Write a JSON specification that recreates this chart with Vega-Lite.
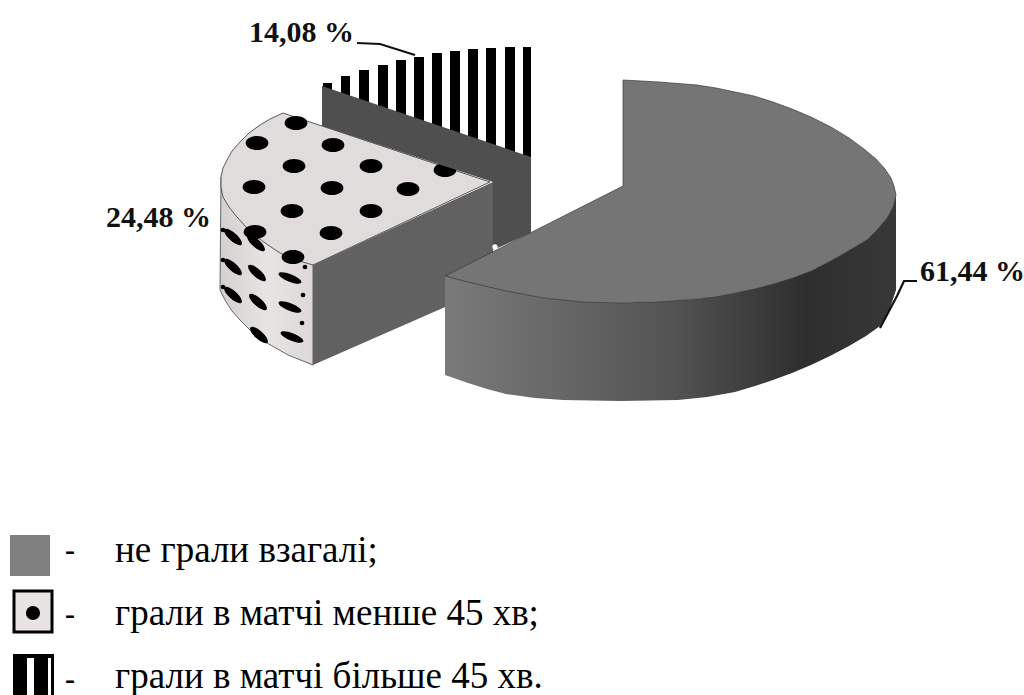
{
"$schema":"https://vega.github.io/schema/vega-lite/v6.json",
"width":1024,"height":695,"padding":0,"autosize":"none",
"background":"white",
"view":{"stroke":null},
"datasets":{
"outline":[
{"part":"stripeTop","i":1,"x":322,"y":86},{"part":"stripeTop","i":2,"x":350,"y":75},{"part":"stripeTop","i":3,"x":383,"y":65},{"part":"stripeTop","i":4,"x":417,"y":57},{"part":"stripeTop","i":5,"x":450,"y":52},{"part":"stripeTop","i":6,"x":483,"y":48},{"part":"stripeTop","i":7,"x":531,"y":47},{"part":"stripeTop","i":8,"x":531,"y":157},{"part":"stripeTop","i":9,"x":322,"y":86},
{"part":"dotSide","i":1,"x":221,"y":177},{"part":"dotSide","i":2,"x":220,"y":290},{"part":"dotSide","i":3,"x":225,"y":300},{"part":"dotSide","i":4,"x":232,"y":311},{"part":"dotSide","i":5,"x":240,"y":320},{"part":"dotSide","i":6,"x":252,"y":332},{"part":"dotSide","i":7,"x":267,"y":343},{"part":"dotSide","i":8,"x":288,"y":355},{"part":"dotSide","i":9,"x":313,"y":365},{"part":"dotSide","i":10,"x":313,"y":265},{"part":"dotSide","i":11,"x":221,"y":177},
{"part":"dotTop","i":1,"x":283,"y":113},{"part":"dotTop","i":2,"x":270,"y":119},{"part":"dotTop","i":3,"x":260,"y":125},{"part":"dotTop","i":4,"x":249,"y":133},{"part":"dotTop","i":5,"x":240,"y":142},{"part":"dotTop","i":6,"x":232,"y":151},{"part":"dotTop","i":7,"x":227,"y":160},{"part":"dotTop","i":8,"x":223,"y":168},{"part":"dotTop","i":9,"x":221,"y":177},{"part":"dotTop","i":10,"x":221,"y":187},{"part":"dotTop","i":11,"x":223,"y":197},{"part":"dotTop","i":12,"x":229,"y":207},{"part":"dotTop","i":13,"x":237,"y":217},{"part":"dotTop","i":14,"x":246,"y":227},{"part":"dotTop","i":15,"x":257,"y":237},{"part":"dotTop","i":16,"x":268,"y":245},{"part":"dotTop","i":17,"x":280,"y":253},{"part":"dotTop","i":18,"x":296,"y":260},{"part":"dotTop","i":19,"x":313,"y":265},{"part":"dotTop","i":20,"x":490,"y":182},{"part":"dotTop","i":21,"x":283,"y":113},
{"part":"darkFace","i":1,"x":322,"y":86},{"part":"darkFace","i":2,"x":531,"y":157},{"part":"darkFace","i":3,"x":531,"y":233},{"part":"darkFace","i":4,"x":493,"y":250},{"part":"darkFace","i":5,"x":493,"y":182},{"part":"darkFace","i":6,"x":322,"y":126},{"part":"darkFace","i":7,"x":322,"y":86},
{"part":"cutFace","i":1,"x":313,"y":265},{"part":"cutFace","i":2,"x":493,"y":182},{"part":"cutFace","i":3,"x":493,"y":286},{"part":"cutFace","i":4,"x":313,"y":365},{"part":"cutFace","i":5,"x":313,"y":265},
{"part":"mainSide","i":1,"x":896,"y":195},{"part":"mainSide","i":2,"x":893,"y":207},{"part":"mainSide","i":3,"x":887,"y":218},{"part":"mainSide","i":4,"x":868,"y":239},{"part":"mainSide","i":5,"x":841,"y":255},{"part":"mainSide","i":6,"x":811,"y":271},{"part":"mainSide","i":7,"x":773,"y":284},{"part":"mainSide","i":8,"x":735,"y":293},{"part":"mainSide","i":9,"x":697,"y":299},{"part":"mainSide","i":10,"x":620,"y":303},{"part":"mainSide","i":11,"x":544,"y":298},{"part":"mainSide","i":12,"x":468,"y":282},{"part":"mainSide","i":13,"x":445,"y":276},{"part":"mainSide","i":14,"x":445,"y":375},{"part":"mainSide","i":15,"x":468,"y":383},{"part":"mainSide","i":16,"x":487,"y":389},{"part":"mainSide","i":17,"x":506,"y":394},{"part":"mainSide","i":18,"x":535,"y":398},{"part":"mainSide","i":19,"x":563,"y":400},{"part":"mainSide","i":20,"x":620,"y":401},{"part":"mainSide","i":21,"x":678,"y":400},{"part":"mainSide","i":22,"x":707,"y":397},{"part":"mainSide","i":23,"x":735,"y":392},{"part":"mainSide","i":24,"x":755,"y":386},{"part":"mainSide","i":25,"x":773,"y":380},{"part":"mainSide","i":26,"x":792,"y":373},{"part":"mainSide","i":27,"x":811,"y":365},{"part":"mainSide","i":28,"x":830,"y":356},{"part":"mainSide","i":29,"x":849,"y":346},{"part":"mainSide","i":30,"x":866,"y":336},{"part":"mainSide","i":31,"x":880,"y":326},{"part":"mainSide","i":32,"x":889,"y":311},{"part":"mainSide","i":33,"x":896,"y":290},{"part":"mainSide","i":34,"x":896,"y":195},
{"part":"mainTop","i":1,"x":623,"y":80},{"part":"mainTop","i":2,"x":659,"y":82},{"part":"mainTop","i":3,"x":697,"y":85},{"part":"mainTop","i":4,"x":716,"y":88},{"part":"mainTop","i":5,"x":735,"y":92},{"part":"mainTop","i":6,"x":754,"y":96},{"part":"mainTop","i":7,"x":773,"y":102},{"part":"mainTop","i":8,"x":792,"y":109},{"part":"mainTop","i":9,"x":811,"y":117},{"part":"mainTop","i":10,"x":831,"y":127},{"part":"mainTop","i":11,"x":849,"y":138},{"part":"mainTop","i":12,"x":864,"y":149},{"part":"mainTop","i":13,"x":876,"y":159},{"part":"mainTop","i":14,"x":885,"y":169},{"part":"mainTop","i":15,"x":891,"y":178},{"part":"mainTop","i":16,"x":894,"y":186},{"part":"mainTop","i":17,"x":896,"y":195},{"part":"mainTop","i":18,"x":893,"y":207},{"part":"mainTop","i":19,"x":887,"y":218},{"part":"mainTop","i":20,"x":878,"y":229},{"part":"mainTop","i":21,"x":868,"y":239},{"part":"mainTop","i":22,"x":855,"y":247},{"part":"mainTop","i":23,"x":841,"y":255},{"part":"mainTop","i":24,"x":827,"y":263},{"part":"mainTop","i":25,"x":811,"y":271},{"part":"mainTop","i":26,"x":793,"y":278},{"part":"mainTop","i":27,"x":773,"y":284},{"part":"mainTop","i":28,"x":755,"y":289},{"part":"mainTop","i":29,"x":735,"y":293},{"part":"mainTop","i":30,"x":716,"y":297},{"part":"mainTop","i":31,"x":697,"y":299},{"part":"mainTop","i":32,"x":660,"y":302},{"part":"mainTop","i":33,"x":620,"y":303},{"part":"mainTop","i":34,"x":582,"y":302},{"part":"mainTop","i":35,"x":544,"y":298},{"part":"mainTop","i":36,"x":506,"y":291},{"part":"mainTop","i":37,"x":468,"y":282},{"part":"mainTop","i":38,"x":445,"y":276},{"part":"mainTop","i":39,"x":623,"y":186},{"part":"mainTop","i":40,"x":623,"y":80},
{"part":"leaderA","i":1,"x":357,"y":43},{"part":"leaderA","i":2,"x":380,"y":44},{"part":"leaderA","i":3,"x":415,"y":55},
{"part":"leaderB","i":1,"x":917,"y":281},{"part":"leaderB","i":2,"x":904,"y":281},{"part":"leaderB","i":3,"x":897,"y":296},{"part":"leaderB","i":4,"x":880,"y":328}
],
"stripes":[
{"x":323,"x2":332,"y":83,"y2":92},{"x":341,"x2":350,"y":76,"y2":98},{"x":359,"x2":369,"y":70,"y2":104},{"x":378,"x2":388,"y":65,"y2":111},{"x":396,"x2":406,"y":60,"y2":117},{"x":414,"x2":424,"y":57,"y2":123},{"x":432,"x2":442,"y":53,"y2":130},{"x":450,"x2":460,"y":51,"y2":136},{"x":468,"x2":478,"y":49,"y2":142},{"x":486,"x2":496,"y":48,"y2":148},{"x":505,"x2":515,"y":47,"y2":154},{"x":523,"x2":531,"y":47,"y2":160}
],
"dots":[
{"x":296,"y":123},{"x":257,"y":143},{"x":333,"y":145},{"x":294,"y":166},{"x":371,"y":166},{"x":445,"y":170},{"x":254,"y":187},{"x":332,"y":188},{"x":408,"y":189},{"x":292,"y":211},{"x":371,"y":211},{"x":331,"y":233},{"x":255,"y":232},{"x":293,"y":257}
],
"sideDots":[
{"col":"left","x":233,"y":237},{"col":"left","x":256,"y":243},{"col":"left","x":233,"y":267},{"col":"left","x":257,"y":273},{"col":"left","x":233,"y":295},{"col":"left","x":258,"y":302},{"col":"left","x":259,"y":335},
{"col":"right","x":290,"y":278},{"col":"right","x":290,"y":307},{"col":"right","x":292,"y":337}
],
"edgeDots":[{"x":223,"y":230},{"x":223,"y":260},{"x":223,"y":287},{"x":303,"y":295},{"x":302,"y":323},{"x":305,"y":267}],
"labels":[
{"label":"14,08 %","x":249,"y":33},{"label":"24,48 %","x":106,"y":218},{"label":"61,44 %","x":920,"y":272}
],
"dashes":[{"label":"-","x":65,"y":551},{"label":"-","x":65,"y":615},{"label":"-","x":65,"y":680}],
"legend":[
{"label":"не грали взагалі;","x":115,"y":562},{"label":"грали в матчі менше 45 хв;","x":115,"y":625},{"label":"грали в матчі більше 45 хв.","x":115,"y":688}
],
"swatches":[
{"kind":"plain","x":10,"x2":50,"y":535,"y2":576},
{"kind":"box","x":14,"x2":52,"y":591,"y2":632},
{"kind":"bar","x":13,"x2":54,"y":654,"y2":695}
],
"swatchStripes":[{"x":27,"x2":34,"y":658,"y2":695},{"x":48,"x2":51,"y":658,"y2":695}],
"swatchDot":[{"x":33,"y":613}],
"spot":[{"x":495,"y":247}]
},
"encoding":{
"x":{"field":"x","type":"quantitative","axis":null,"scale":{"domain":[0,1024],"nice":false,"zero":false}},
"y":{"field":"y","type":"quantitative","axis":null,"scale":{"domain":[695,0],"nice":false,"zero":false}}
},
"layer":[
{"data":{"name":"outline"},"transform":[{"filter":"datum.part==='stripeTop'"}],"mark":{"type":"line","fill":"#ffffff","stroke":null},"encoding":{"order":{"field":"i","type":"quantitative"}}},
{"data":{"name":"stripes"},"mark":{"type":"rect","fill":"#000000"},"encoding":{"x2":{"field":"x2"},"y2":{"field":"y2"}}},
{"data":{"name":"outline"},"transform":[{"filter":"datum.part==='dotSide'"}],"mark":{"type":"line","fill":{"x1":0,"y1":0,"x2":1,"y2":0,"gradient":"linear","stops":[{"offset":0,"color":"#d4d0d0"},{"offset":0.5,"color":"#e8e4e4"},{"offset":1,"color":"#dcd8d8"}]},"stroke":"#444444","strokeWidth":0.8},"encoding":{"order":{"field":"i","type":"quantitative"}}},
{"data":{"name":"sideDots"},"transform":[{"filter":"datum.col==='left'"}],"mark":{"type":"point","shape":"M-1,0A1,0.36 0 1 1 1,0A1,0.36 0 1 1 -1,0Z","filled":true,"fill":"#000000","stroke":null,"opacity":1,"angle":42,"size":520}},
{"data":{"name":"sideDots"},"transform":[{"filter":"datum.col==='right'"}],"mark":{"type":"point","shape":"M-1,0A1,0.3 0 1 1 1,0A1,0.3 0 1 1 -1,0Z","filled":true,"fill":"#000000","stroke":null,"opacity":1,"angle":22,"size":600}},
{"data":{"name":"edgeDots"},"mark":{"type":"point","shape":"circle","filled":true,"fill":"#000000","stroke":null,"opacity":1,"size":22}},
{"data":{"name":"outline"},"transform":[{"filter":"datum.part==='dotTop'"}],"mark":{"type":"line","fill":"#e0dcdc","stroke":"#333333","strokeWidth":0.8},"encoding":{"order":{"field":"i","type":"quantitative"}}},
{"data":{"name":"dots"},"mark":{"type":"point","shape":"M-1,0A1,0.62 0 1 1 1,0A1,0.62 0 1 1 -1,0Z","filled":true,"fill":"#000000","stroke":null,"opacity":1,"size":520}},
{"data":{"name":"outline"},"transform":[{"filter":"datum.part==='darkFace'"}],"mark":{"type":"line","fill":"#4f4f4f","stroke":null},"encoding":{"order":{"field":"i","type":"quantitative"}}},
{"data":{"name":"outline"},"transform":[{"filter":"datum.part==='cutFace'"}],"mark":{"type":"line","fill":"#616161","stroke":null},"encoding":{"order":{"field":"i","type":"quantitative"}}},
{"data":{"name":"spot"},"mark":{"type":"point","shape":"circle","filled":true,"fill":"#ffffff","stroke":null,"opacity":1,"size":28}},
{"data":{"name":"outline"},"transform":[{"filter":"datum.part==='mainSide'"}],"mark":{"type":"line","fill":{"x1":0,"y1":0,"x2":1,"y2":0,"gradient":"linear","stops":[{"offset":0,"color":"#7a7a7a"},{"offset":0.5,"color":"#545454"},{"offset":0.8,"color":"#2e2e2e"},{"offset":1,"color":"#383838"}]},"stroke":null},"encoding":{"order":{"field":"i","type":"quantitative"}}},
{"data":{"name":"outline"},"transform":[{"filter":"datum.part==='mainTop'"}],"mark":{"type":"line","fill":"#757575","stroke":"#3a3a3a","strokeWidth":0.7},"encoding":{"order":{"field":"i","type":"quantitative"}}},
{"data":{"name":"outline"},"transform":[{"filter":"datum.part==='leaderA'"}],"mark":{"type":"line","stroke":"#111111","strokeWidth":2.2},"encoding":{"order":{"field":"i","type":"quantitative"}}},
{"data":{"name":"outline"},"transform":[{"filter":"datum.part==='leaderB'"}],"mark":{"type":"line","stroke":"#111111","strokeWidth":2.2},"encoding":{"order":{"field":"i","type":"quantitative"}}},
{"data":{"name":"labels"},"mark":{"type":"text","font":"Liberation Serif","fontWeight":"bold","fontSize":30,"align":"left","baseline":"middle","fill":"#111111"},"encoding":{"text":{"field":"label"}}},
{"data":{"name":"dashes"},"mark":{"type":"text","font":"Liberation Serif","fontWeight":"bold","fontSize":30,"align":"left","baseline":"middle","fill":"#000000"},"encoding":{"text":{"field":"label"}}},
{"data":{"name":"legend"},"mark":{"type":"text","font":"Liberation Serif","fontSize":37,"align":"left","baseline":"alphabetic","fill":"#000000"},"encoding":{"text":{"field":"label"}}},
{"data":{"name":"swatches"},"transform":[{"filter":"datum.kind==='plain'"}],"mark":{"type":"rect","fill":"#808080"},"encoding":{"x2":{"field":"x2"},"y2":{"field":"y2"}}},
{"data":{"name":"swatches"},"transform":[{"filter":"datum.kind==='box'"}],"mark":{"type":"rect","fill":"#e8e4e4","stroke":"#000000","strokeWidth":3},"encoding":{"x2":{"field":"x2"},"y2":{"field":"y2"}}},
{"data":{"name":"swatches"},"transform":[{"filter":"datum.kind==='bar'"}],"mark":{"type":"rect","fill":"#000000"},"encoding":{"x2":{"field":"x2"},"y2":{"field":"y2"}}},
{"data":{"name":"swatchStripes"},"mark":{"type":"rect","fill":"#ffffff"},"encoding":{"x2":{"field":"x2"},"y2":{"field":"y2"}}},
{"data":{"name":"swatchDot"},"mark":{"type":"point","shape":"circle","filled":true,"fill":"#000000","stroke":null,"opacity":1,"size":200}}
]
}
